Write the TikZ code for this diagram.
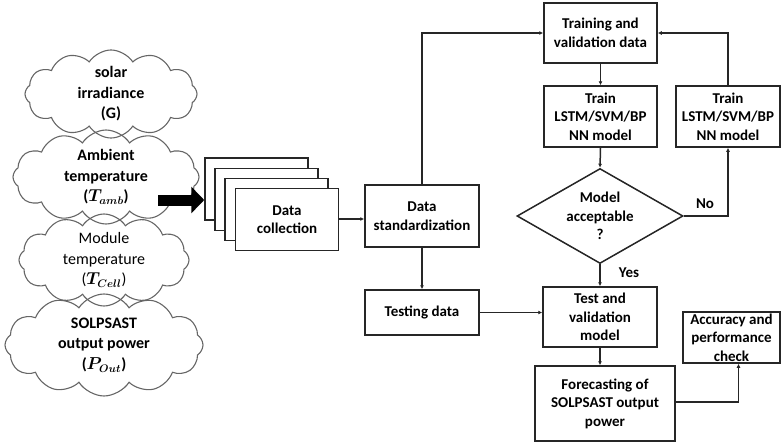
\documentclass[tikz,border=0pt]{standalone}
\usepackage{fontspec}
\setmainfont{Carlito}
\usepackage{bm}
\usetikzlibrary{shapes.symbols,shapes.geometric,arrows.meta,calc}

\newcommand{\lblfont}{\fontsize{15}{18.5}\selectfont\bfseries}
\newcommand{\cloudfont}{\fontsize{16}{20.5}\selectfont}

\begin{document}
\begin{tikzpicture}[x=1pt,y=-1pt,
  box/.style={draw=black!85, line width=1.5pt, fill=white, align=center,
    font=\lblfont, inner sep=1pt},
  stackbox/.style={box, minimum width=103pt, minimum height=62pt},
  puff/.style={cloud, cloud puffs=12, cloud puff arc=115, cloud ignores aspect,
    draw=black!60, line width=1.1pt, align=center, inner sep=0pt,
    font=\cloudfont\bfseries},
  flow/.style={draw=black!85, line width=1.5pt, -{Latex[length=4pt,width=4pt]}},
  feedarrow/.style={draw=black, line width=11pt, -{Triangle[length=13pt,width=26pt]}},
  tag/.style={font=\lblfont}
]
\useasboundingbox (0,0) rectangle (781,444);

% input variables
\node[puff, minimum width=172pt, minimum height=84pt] (irr) at (111,94)
  {solar\\irradiance\\(G)};
\node[puff, minimum width=186pt, minimum height=94pt] (amb) at (106,177)
  {Ambient\\temperature\\($\bm{T_{amb}}$)};
\node[puff, minimum width=170pt, minimum height=92pt, font=\cloudfont] (cell) at (104,260)
  {Module\\temperature\\($\bm{T_{Cell}}$)};
\node[puff, minimum width=198pt, minimum height=102pt] (pout) at (104,345)
  {SOLPSAST\\output power\\($\bm{P_{Out}}$)};

% stacked data collection sheets
\node[stackbox] (s1) at (256.5,189) {};
\node[stackbox] (s2) at (266.5,199.5) {};
\node[stackbox] (s3) at (276.5,209.5) {};
\node[stackbox] (collect) at (287,219.5) {Data\\collection};

\coordinate (feed) at (158,200);
\draw[feedarrow] (feed) -- (feed -| s1.west);

% processing chain
\node[box, minimum width=114pt, minimum height=62pt] (std) at (422,216)
  {Data\\standardization};
\node[box, minimum width=114pt, minimum height=45pt] (testing) at (422,312.5)
  {Testing data};
\node[box, minimum width=113pt, minimum height=60pt] (train) at (600.5,33)
  {Training and\\validation data};
\node[box, minimum width=113pt, minimum height=61pt] (lstmA) at (600.5,116.5)
  {Train\\LSTM/SVM/BP\\NN model};
\node[box, minimum width=104pt, minimum height=61pt] (lstmB) at (728,116.5)
  {Train\\LSTM/SVM/BP\\NN model};
\node[diamond, draw=black!85, line width=1.5pt, fill=white, inner sep=0pt,
  minimum width=166pt, minimum height=95pt,
  label={[align=center, font=\lblfont]center:Model\\acceptable\\?}] (check) at (600,216) {};
\node[box, minimum width=114pt, minimum height=60pt] (test) at (600,317)
  {Test and\\validation\\model};
\node[box, minimum width=140pt, minimum height=75pt] (fore) at (605,403.5)
  {Forecasting of\\SOLPSAST output\\power};
\node[box, minimum width=97pt, minimum height=51pt] (acc) at (731.5,337.5)
  {Accuracy and\\performance\\check};

% connectors
\draw[flow] (collect.east |- 0,219) -- (std.west |- 0,219);
\draw[flow] (std.north) |- (train.west);
\draw[flow] (train.south) -- (lstmA.north);
\draw[flow] (lstmA.south) -- (check.north);
\draw[flow] (check.east) -| (lstmB.south);
\draw[flow] (lstmB.north) |- (train.east);
\draw[flow] (check.south) -- (test.north);
\draw[flow] (std.south) -- (testing.north);
\draw[flow] (testing.east) -- (test.west |- testing.east);
\draw[flow] (test.south) -- (test.south |- fore.north);
\draw[flow] (fore.east |- 0,402) -| ($(acc.south)+(7,0)$);

\node[tag] (no) at (705,204) {No};
\node[tag] (yes) at (629,273) {Yes};
\end{tikzpicture}
\end{document}
